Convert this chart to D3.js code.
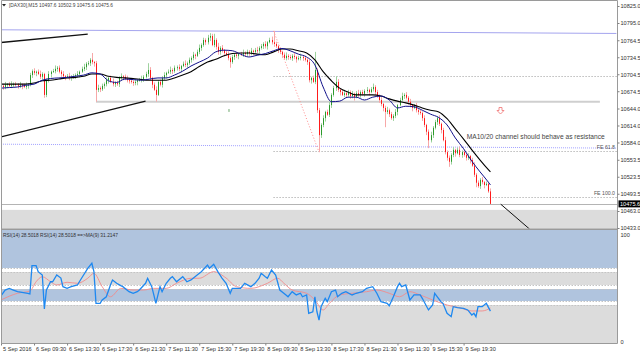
<!DOCTYPE html>
<html lang="en">
<head>
    <meta charset="utf-8">
    <title>DAX30 M15</title>
    <script src="https://d3js.org/d3.v7.min.js"></script>
    <style>
        body { margin: 0; background: #fff; }
        svg { display: block; font-family: "Liberation Sans", Arial, sans-serif; }
        .axis path.domain { display: none; }
        .axis line { stroke: #808080; }
        .axis text { fill: #303030; font-size: 5.6px; }
    </style>
</head>
<body>
<svg id="chart" width="640" height="355"></svg>
<script>
// M15 bars, bar 0 = first visible bar (5 Sep)
var opens = [
 10682,10684,10682,10686,10687,10684,10686,10687,10686,10684,
 10686,10684,10682,10684,10686,10703,10710,10707,10709,10705,
 10700,10705,10668,10694,10705,10709,10710,10714,10716,10709,
 10705,10701,10700,10701,10698,10700,10701,10703,10705,10709,
 10714,10717,10723,10724,10730,10726,10724,10677,10680,10678,
 10684,10687,10694,10698,10691,10687,10689,10687,10698,10701,
 10700,10696,10694,10693,10691,10689,10691,10694,10694,10696,
 10700,10705,10712,10698,10686,10677,10668,10691,10686,10698,
 10703,10707,10709,10712,10710,10716,10717,10714,10719,10723,
 10721,10724,10730,10733,10739,10737,10744,10751,10756,10765,
 10761,10769,10772,10756,10765,10753,10744,10751,10747,10742,
 10739,10733,10726,10735,10739,10737,10740,10739,10742,10740,
 10744,10742,10746,10744,10747,10746,10751,10754,10758,10754,
 10761,10765,10761,10758,10754,10747,10744,10739,10733,10737,
 10735,10733,10737,10735,10731,10733,10735,10733,10730,10726,
 10694,10698,10691,10712,10641,10597,10615,10627,10638,10633,
 10650,10668,10680,10691,10677,10673,10668,10671,10668,10673,
 10666,10670,10664,10671,10668,10673,10670,10675,10677,10673,
 10678,10682,10673,10666,10659,10652,10645,10638,10641,10634,
 10627,10631,10638,10650,10659,10666,10668,10663,10656,10650,
 10645,10648,10641,10638,10636,10627,10615,10603,10588,10597,
 10610,10620,10627,10617,10606,10588,10567,10557,10550,10562,
 10571,10565,10571,10562,10567,10562,10557,10560,10553,10543,
 10527,10513,10507,10518,10514,10509,10511,10497.6];
var highs = [
 10688,10687,10691,10689,10691,10692,10690,10691,10689,10691,
 10688,10688,10690,10689,10707,10713,10715,10711,10713,10711,
 10708,10707,10697,10710,10711,10714,10720,10719,10720,10712,
 10710,10703,10705,10707,10703,10705,10706,10710,10711,10718,
 10723,10726,10728,10733,10742,10728,10728,10686,10683,10688,
 10690,10699,10700,10702,10697,10692,10693,10701,10706,10703,
 10704,10702,10697,10697,10694,10696,10696,10698,10702,10703,
 10709,10724,10717,10700,10690,10683,10694,10695,10701,10708,
 10709,10713,10718,10715,10720,10720,10722,10721,10727,10729,
 10727,10734,10736,10744,10741,10748,10757,10759,10769,10768,
 10774,10777,10776,10776,10768,10760,10754,10756,10749,10746,
 10745,10736,10739,10742,10744,10742,10744,10748,10745,10748,
 10747,10751,10748,10751,10753,10754,10758,10761,10763,10763,
 10769,10771,10781,10762,10757,10752,10746,10743,10743,10740,
 10739,10740,10742,10737,10737,10741,10738,10737,10733,10731,
 10700,10702,10744,10715,10645,10618,10632,10640,10642,10656,
 10671,10684,10701,10696,10679,10677,10677,10674,10677,10676,
 10675,10672,10675,10677,10676,10677,10678,10682,10679,10682,
 10688,10685,10677,10669,10664,10654,10649,10647,10644,10638,
 10634,10643,10652,10663,10672,10671,10673,10666,10661,10652,
 10652,10654,10644,10642,10639,10632,10617,10607,10603,10613,
 10624,10630,10632,10619,10610,10594,10570,10561,10565,10576,
 10573,10575,10577,10570,10571,10565,10565,10562,10557,10549,
 10530,10517,10521,10523,10516,10515,10513,10502.9];
var lows = [
 10679,10677,10678,10680,10682,10680,10681,10683,10679,10680,
 10678,10680,10678,10679,10683,10698,10703,10701,10703,10696,
 10695,10663,10664,10690,10699,10707,10706,10709,10706,10700,
 10697,10694,10698,10694,10693,10697,10696,10699,10699,10707,
 10710,10712,10720,10719,10722,10718,10656,10673,10673,10675,
 10679,10683,10688,10689,10683,10682,10684,10682,10694,10694,
 10694,10690,10688,10688,10684,10685,10685,10692,10690,10691,
 10697,10700,10694,10680,10675,10656,10666,10683,10681,10694,
 10697,10705,10705,10705,10707,10711,10710,10708,10717,10717,
 10716,10721,10725,10729,10731,10735,10740,10746,10753,10756,
 10757,10763,10754,10752,10748,10739,10739,10743,10736,10737,
 10729,10716,10723,10730,10733,10731,10737,10735,10735,10737,
 10737,10738,10738,10742,10742,10741,10748,10749,10750,10748,
 10759,10757,10753,10751,10742,10740,10733,10731,10729,10730,
 10730,10728,10731,10725,10729,10729,10728,10727,10721,10690,
 10688,10689,10687,10636,10567,10592,10611,10621,10631,10629,
 10645,10665,10675,10673,10667,10666,10664,10663,10665,10661,
 10662,10658,10662,10664,10663,10667,10665,10671,10667,10671,
 10674,10668,10663,10654,10648,10639,10611,10634,10629,10624,
 10622,10627,10632,10648,10655,10661,10660,10651,10646,10639,
 10643,10637,10633,10633,10622,10611,10597,10574,10584,10592,
 10607,10615,10613,10600,10586,10563,10552,10541,10545,10558,
 10559,10563,10558,10557,10559,10552,10553,10547,10541,10523,
 10505,10504,10502,10510,10503,10507,10495,10475.6];
var closes = [
 10684,10682,10686,10687,10684,10686,10687,10686,10684,10686,
 10684,10682,10684,10686,10703,10710,10707,10709,10705,10700,
 10705,10668,10694,10705,10709,10710,10714,10716,10709,10705,
 10701,10700,10701,10698,10700,10701,10703,10705,10709,10714,
 10717,10723,10724,10730,10726,10724,10677,10680,10678,10684,
 10687,10694,10698,10691,10687,10689,10687,10698,10701,10700,
 10696,10694,10693,10691,10689,10691,10694,10694,10696,10700,
 10705,10712,10698,10686,10677,10668,10691,10686,10698,10703,
 10707,10709,10712,10710,10716,10717,10714,10719,10723,10721,
 10724,10730,10733,10739,10737,10744,10751,10756,10765,10761,
 10769,10772,10756,10765,10753,10744,10751,10747,10742,10739,
 10733,10726,10735,10739,10737,10740,10739,10742,10740,10744,
 10742,10746,10744,10747,10746,10751,10754,10758,10754,10761,
 10765,10761,10758,10754,10747,10744,10739,10733,10737,10735,
 10733,10737,10735,10731,10733,10735,10733,10730,10726,10694,
 10698,10691,10712,10641,10597,10615,10627,10638,10633,10650,
 10668,10680,10691,10677,10673,10668,10671,10668,10673,10666,
 10670,10664,10671,10668,10673,10670,10675,10677,10673,10678,
 10682,10673,10666,10659,10652,10645,10638,10641,10634,10627,
 10631,10638,10650,10659,10666,10668,10663,10656,10650,10645,
 10648,10641,10638,10636,10627,10615,10603,10588,10597,10610,
 10620,10627,10617,10606,10588,10567,10557,10550,10562,10571,
 10565,10571,10562,10567,10562,10557,10560,10553,10543,10527,
 10513,10507,10518,10514,10509,10511,10497.6,10475.6];

// moving averages: [bar, price]
var ma10 = [[0,10680],[4,10681],[8,10682],[12,10685],[16,10687],[20,10694],[24,10697],[28,10698],[32,10699],[36,10701],
 [40,10703],[44,10707],[48,10705],[52,10693],[56,10690],[60,10696],[64,10695],[68,10694],[72,10696],[76,10698],
 [80,10698],[84,10703],[88,10710],[92,10719],[96,10726],[100,10733],[104,10744],[108,10747],[112,10746],[116,10740],
 [120,10735],[124,10738],[128,10741],[132,10746],[136,10750],[140,10746],[144,10740],[148,10735],[152,10721],[156,10682],
 [160,10656],[164,10657],[168,10664],[172,10664],[176,10659],[180,10664],[184,10666],[188,10659],[192,10645],[196,10648],
 [200,10647],[204,10641],[208,10634],[212,10628],[216,10615],[220,10592],[224,10573],[228,10551],[232,10532],[236,10514],[237,10509]];
var ma20 = [[0,10687],[4,10687],[8,10687],[12,10687],[16,10689],[20,10693],[24,10694],[28,10696],[32,10698],[36,10699],
 [40,10701],[44,10705],[48,10705],[52,10701],[56,10699],[60,10698],[64,10697],[68,10695],[72,10694],[76,10694],
 [80,10694],[84,10698],[88,10703],[92,10709],[96,10718],[100,10726],[104,10731],[108,10737],[112,10741],[116,10742],
 [120,10742],[124,10740],[128,10739],[132,10744],[136,10749],[140,10749],[144,10746],[148,10742],[152,10730],[156,10709],
 [160,10693],[164,10680],[168,10673],[172,10668],[176,10668],[180,10668],[184,10666],[188,10661],[192,10657],[196,10654],
 [200,10650],[204,10645],[208,10641],[212,10638],[216,10626],[220,10608],[224,10590],[228,10571],[232,10553],[236,10536],[237,10532]];

// RSI(14) and MA(9) of it: [bar, value]
var rsi = [[0,42.0],[2,47.3],[4,48.8],[6,47.3],[8,45.8],[13,44.4],[14,43.8],[15,69.0],[17,69.0],[18,63.7],
 [20,60.7],[21,30.4],[22,47.3],[24,54.7],[25,54.7],[27,60.7],[29,58.0],[30,50.3],[32,48.8],[34,50.3],
 [37,51.8],[39,57.8],[42,66.7],[44,71.2],[45,63.7],[46,35.4],[48,35.4],[49,38.4],[51,41.3],[53,51.8],
 [54,56.3],[56,53.3],[58,51.2],[59,50.3],[62,45.8],[64,44.4],[66,45.8],[67,47.3],[70,53.3],[71,57.8],
 [73,50.3],[74,42.9],[75,35.4],[77,50.3],[78,45.8],[80,53.3],[82,57.8],[83,59.2],[85,54.7],[88,59.2],
 [90,54.7],[92,56.3],[95,60.7],[97,63.7],[100,69.6],[101,66.7],[103,70.3],[105,63.7],[107,58.0],[109,53.3],
 [111,44.4],[112,48.8],[116,48.8],[118,53.3],[121,50.3],[123,53.3],[125,57.8],[126,62.2],[128,59.2],[129,57.8],
 [131,65.2],[133,60.7],[135,47.3],[138,42.9],[139,41.3],[141,45.8],[143,42.9],[145,44.4],[146,41.3],[148,42.9],
 [149,26.5],[151,27.9],[152,41.3],[153,27.9],[154,20.5],[155,32.4],[157,39.9],[158,36.9],[160,45.8],[162,47.3],
 [163,41.3],[165,44.4],[167,45.8],[170,42.9],[172,44.4],[175,45.8],[177,48.8],[180,50.3],[182,44.4],[184,36.9],
 [187,35.4],[188,33.3],[190,41.3],[192,50.3],[193,53.3],[194,50.3],[196,51.8],[198,38.4],[200,42.9],[203,42.9],
 [204,39.9],[207,29.5],[209,33.9],[210,44.4],[213,36.9],[214,35.4],[216,26.5],[218,23.5],[219,32.4],[221,31.5],
 [224,31.0],[226,29.5],[228,25.0],[229,26.5],[230,23.5],[231,32.4],[233,32.4],[235,35.4],[237,28.5]];
var rsiMa = [[0,38.4],[8,44.4],[14,46.4],[17,54.7],[20,59.2],[24,54.7],[27,51.8],[32,54.2],[37,53.3],[42,57.8],
 [45,62.2],[49,50.3],[53,41.3],[58,48.8],[64,47.3],[69,47.3],[74,48.8],[80,48.8],[85,53.3],[92,57.8],
 [96,57.8],[103,63.7],[109,58.0],[114,50.3],[121,48.8],[129,53.3],[134,57.8],[137,53.3],[141,47.3],[148,44.4],
 [152,38.4],[156,29.5],[159,35.4],[164,42.9],[170,44.4],[177,45.8],[182,47.3],[188,44.4],[193,41.3],[198,45.8],
 [203,42.9],[209,38.4],[216,33.9],[222,31.5],[228,28.6],[233,28.6],[237,31.2]];

var priceTicks = [10825.0, 10795.0, 10764.5, 10734.5, 10704.5, 10674.5, 10644.0, 10614.0, 10584.0, 10553.5, 10523.5, 10493.5, 10463.0, 10433.0];
var dateBars = [0, 16, 32, 48, 64, 80, 96, 112, 128, 144, 160, 176, 192, 208, 224];
var dateLabels = ["5 Sep 2016", "6 Sep 09:30", "6 Sep 13:30", "6 Sep 17:30", "6 Sep 21:30", "7 Sep 11:30", "7 Sep 15:30",
                  "7 Sep 19:30", "8 Sep 09:30", "8 Sep 13:30", "8 Sep 17:30", "8 Sep 21:30", "9 Sep 11:30", "9 Sep 15:30", "9 Sep 19:30"];

// objects drawn on the chart, anchors as [bar, price]
var lineUpperBlack = [[0, 10760.5], [42, 10775.5]];
var lineLowerBlack = [[0, 10594], [70, 10657]];
var lineTopBlue = [[0, 10783], [298, 10776.5]];
var lineDotBlue = [[0, 10581], [298, 10574]];
var lineSupport = [[46, 10656], [290, 10656]];
var lineDown = [[242, 10475], [256, 10431]];
var feHigh = [132, 10781], feLow = [154, 10567], feBase = 10702;
var feLevels = [0, 61.8, 100];
var grayZone = [10465, 10420];
var rsiZones = [[67, 101], [51.8, 63.4], [37.5, 48.2], [-1, 33.9]];
var sellArrow = [241.6, 10647];

var svg = d3.select("#chart");
var x = d3.scaleLinear().domain([0, 298]).range([1, 616.4]);
var y = d3.scaleLinear().domain([10433, 10825]).range([228, 6]);
var yr = d3.scaleLinear().domain([0, 100]).range([343, 231]);
var left = 1.5, right = 617.5, mainBottom = 228.8, rsiTop = 229.8, rsiBottom = 343;

svg.append("rect").attr("width", 640).attr("height", 355).attr("fill", "#fff");

var defs = svg.append("defs");
defs.append("clipPath").attr("id", "clipMain").append("rect")
    .attr("x", left).attr("y", 1).attr("width", right - left).attr("height", mainBottom - 1);
defs.append("clipPath").attr("id", "clipRsi").append("rect")
    .attr("x", left).attr("y", rsiTop).attr("width", right - left).attr("height", rsiBottom - rsiTop);

var g = svg.append("g").attr("clip-path", "url(#clipMain)");

function seg(sel, pts) {
    return sel.append("line")
        .attr("x1", x(pts[0][0])).attr("y1", y(pts[0][1]))
        .attr("x2", x(pts[1][0])).attr("y2", y(pts[1][1]));
}

// gray zone and bid line
g.append("rect").attr("x", left).attr("width", right - left)
    .attr("y", y(grayZone[0])).attr("height", y(grayZone[1]) - y(grayZone[0]))
    .attr("fill", "#dcdcdc");
g.append("line").attr("x1", left).attr("x2", right)
    .attr("y1", Math.round(y(closes[closes.length - 1])) + 0.5).attr("y2", Math.round(y(closes[closes.length - 1])) + 0.5)
    .attr("stroke", "#b4b4b4");

seg(g, lineTopBlue).attr("stroke", "#a4a4ee").attr("stroke-width", 1);
seg(g, lineDotBlue).attr("stroke", "#8c8cff").attr("stroke-dasharray", "1,1").attr("stroke-width", 0.8);
seg(g, lineSupport).attr("stroke", "#cfcfcf").attr("stroke-width", 2);
seg(g, lineUpperBlack).attr("stroke", "#111").attr("stroke-width", 1.3);
seg(g, lineLowerBlack).attr("stroke", "#111").attr("stroke-width", 1.3);
seg(g, lineDown).attr("stroke", "#111").attr("stroke-width", 1);

// fibo expansion
seg(g, [feHigh, feLow]).attr("stroke", "#ff8c8c").attr("stroke-dasharray", "1,2");
var feRange = feHigh[1] - feLow[1];
feLevels.forEach(function(lv) {
    var p = feBase - feRange * lv / 100;
    g.append("line").attr("x1", x(feHigh[0])).attr("x2", right)
        .attr("y1", Math.round(y(p)) + 0.5).attr("y2", Math.round(y(p)) + 0.5)
        .attr("stroke", "#9a9a9a").attr("stroke-dasharray", "1,2");
    if (lv > 0) {
        g.append("text").attr("x", 615).attr("y", y(p) - 1.5)
            .attr("text-anchor", "end").attr("font-size", 5.2).attr("fill", "#555")
            .text("FE " + lv.toFixed(1));
    }
});

// candles
var bars = closes.map(function(c, i) {
    return { i: i, o: opens[i], h: highs[i], l: lows[i], c: c };
});
g.selectAll(".wick").data(bars).enter().append("line")
    .attr("class", "wick")
    .attr("x1", function(d) { return Math.round(x(d.i)) + 0.5; })
    .attr("x2", function(d) { return Math.round(x(d.i)) + 0.5; })
    .attr("y1", function(d) { return y(d.h); })
    .attr("y2", function(d) { return y(d.l); })
    .attr("stroke", function(d) { return d.c >= d.o ? "#9fd29f" : "#f7a8a8"; })
    .attr("stroke-width", 1);
g.selectAll(".body").data(bars).enter().append("rect")
    .attr("class", "body")
    .attr("x", function(d) { return Math.round(x(d.i)); })
    .attr("width", 1)
    .attr("y", function(d) { return y(Math.max(d.o, d.c)); })
    .attr("height", function(d) { return Math.max(1, Math.abs(y(d.o) - y(d.c))); })
    .attr("fill", function(d) { return d.c >= d.o ? "#2c9a2c" : "#ff1a1a"; });

// moving averages
var maLine = d3.line()
    .x(function(d) { return x(d[0]); })
    .y(function(d) { return y(d[1]); })
    .curve(d3.curveMonotoneX);
g.append("path").attr("d", maLine(ma20)).attr("fill", "none").attr("stroke", "#000").attr("stroke-width", 1.1);
g.append("path").attr("d", maLine(ma10)).attr("fill", "none").attr("stroke", "#10108a").attr("stroke-width", 1);

// sell arrow, small mark and note
var ax = Math.round(x(sellArrow[0])) + 0.5, ay = Math.round(y(sellArrow[1])) + 0.5;
g.append("path")
    .attr("d", "M" + (ax - 1.5) + "," + ay + " h3 v3 h2 l-3.5,3.5 l-3.5,-3.5 h2 Z")
    .attr("fill", "#fff").attr("stroke", "#f07f7f").attr("stroke-width", 0.9);
g.append("line").attr("x1", x(110.4)).attr("x2", x(110.4)).attr("y1", y(10643)).attr("y2", y(10638))
    .attr("stroke", "#6aa56a").attr("stroke-width", 1);
g.append("text").attr("x", x(225.5)).attr("y", y(10591))
    .attr("font-size", 7).attr("fill", "#444").attr("textLength", 138).attr("lengthAdjust", "spacingAndGlyphs")
    .text("MA10/20 channel should behave as resistance");

// RSI pane
var gr = svg.append("g").attr("clip-path", "url(#clipRsi)");
rsiZones.forEach(function(z, k) {
    gr.append("rect").attr("x", left).attr("width", right - left)
        .attr("y", yr(z[1])).attr("height", yr(z[0]) - yr(z[1]))
        .attr("fill", k % 2 === 0 ? "#b0c4de" : "#dcdcdc");
    [z[0], z[1]].forEach(function(v) {
        if (v > 0 && v < 100) {
            gr.append("line").attr("x1", left).attr("x2", right)
                .attr("y1", Math.round(yr(v)) + 0.5).attr("y2", Math.round(yr(v)) + 0.5)
                .attr("stroke", "#c4c4c4").attr("stroke-dasharray", "1.5,1.5");
        }
    });
});
var rsiLine = d3.line()
    .x(function(d) { return x(d[0]); })
    .y(function(d) { return yr(d[1]); });
gr.append("path").attr("d", rsiLine.curve(d3.curveMonotoneX)(rsiMa)).attr("fill", "none")
    .attr("stroke", "#f28b8b").attr("stroke-width", 0.9);
gr.append("path").attr("d", rsiLine.curve(d3.curveLinear)(rsi)).attr("fill", "none")
    .attr("stroke", "#1e88f0").attr("stroke-width", 1.3);

// frames
var frame = svg.append("g").attr("stroke", "#9a9a9a").attr("fill", "none");
frame.append("line").attr("x1", left).attr("x2", left).attr("y1", 0.5).attr("y2", rsiBottom + 0.5);
frame.append("line").attr("x1", right).attr("x2", right).attr("y1", 0.5).attr("y2", rsiBottom + 0.5);
frame.append("line").attr("x1", left).attr("x2", right).attr("y1", 0.5).attr("y2", 0.5);
frame.append("line").attr("x1", left).attr("x2", right).attr("y1", 229.3).attr("y2", 229.3).attr("stroke-width", 1.4);
frame.append("line").attr("x1", left).attr("x2", right).attr("y1", rsiBottom + 0.5).attr("y2", rsiBottom + 0.5);

// axes
svg.append("g").attr("class", "axis").attr("transform", "translate(" + right + ",0)")
    .call(d3.axisRight(y).tickValues(priceTicks).tickFormat(d3.format(".1f")).tickSize(2).tickPadding(1));
svg.append("g").attr("class", "axis").attr("transform", "translate(" + right + ",0)")
    .call(d3.axisRight(yr).tickValues([100, 0]).tickFormat(d3.format("d")).tickSize(0).tickPadding(3))
    .selectAll("text").attr("dy", function(d) { return d === 100 ? "0.9em" : "0em"; });
var xAxis = svg.append("g").attr("class", "axis").attr("transform", "translate(0," + (rsiBottom + 0.5) + ")")
    .call(d3.axisBottom(x).tickValues(dateBars).tickFormat(function(d, i) { return dateLabels[i]; }).tickSize(2).tickPadding(1));
xAxis.selectAll("text").attr("text-anchor", "start").attr("x", 1.5).attr("dy", "0.8em");

// current price box
var last = closes[closes.length - 1];
svg.append("rect").attr("x", right + 1).attr("y", y(last) - 3.5).attr("width", 22).attr("height", 7).attr("fill", "#000");
svg.append("text").attr("x", right + 2.5).attr("y", y(last)).attr("dy", "0.34em")
    .attr("font-size", 5.6).attr("fill", "#fff").text(d3.format(".1f")(last));

// headers
svg.append("path").attr("d", "M2,4 L6,4 L4,6.5 Z").attr("fill", "#222");
svg.append("text").attr("x", 9).attr("y", 7.3).attr("font-size", 5.6).attr("fill", "#404040")
    .attr("textLength", 104).attr("lengthAdjust", "spacingAndGlyphs")
    .text("[DAX30],M15  10497.6 10502.9 10475.6 10475.6");
svg.append("text").attr("x", 3).attr("y", 236.5).attr("font-size", 5.6).attr("fill", "#303030")
    .attr("textLength", 115).attr("lengthAdjust", "spacingAndGlyphs")
    .text("RSI(14) 28.5018  RSI(14) 28.5018  ==>MA(9) 31.2147");
</script>
</body>
</html>
